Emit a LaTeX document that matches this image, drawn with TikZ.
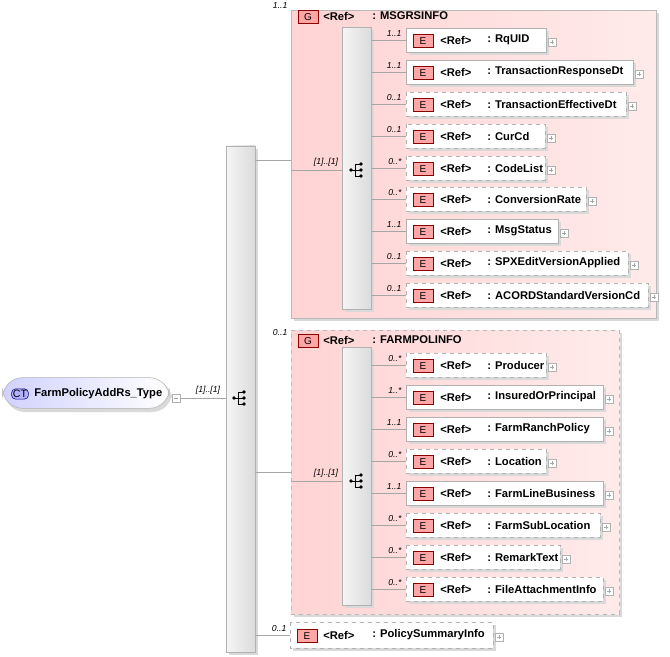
\documentclass[tikz,border=0pt]{standalone}
\usepackage{fontspec}
\setmainfont{Liberation Sans}
\begin{document}
\begin{tikzpicture}[x=0.75pt,y=-0.75pt,font=\fontsize{8.4}{9}\selectfont\bfseries,
  bar/.style={draw=gray!60,left color=gray!8,right color=gray!28},
  grp/.style={draw=gray!55,left color=red!17,right color=red!8},
  eicon/.style={draw=red!55!black,fill=red!35,inner sep=0pt,minimum width=15pt,minimum height=10pt,font=\fontsize{7.5}{8}\selectfont\mdseries},
  mult/.style={font=\fontsize{6.5}{7}\selectfont\itshape\mdseries,inner sep=1pt},
  conn/.style={draw=gray!70},
  shd/.style={fill=gray!30,draw=none}]
\useasboundingbox (0,0) rectangle (670,656);
\newcommand\seqicon[2]{%
  \fill (#1-6,#2) circle[radius=1.4pt];
  \draw[line width=0.7pt] (#1-6,#2)--(#1-2,#2) (#1-2,#2-6)--(#1-2,#2+6)
    (#1-2,#2-6)--(#1+3,#2-6) (#1-2,#2+6)--(#1+3,#2+6) (#1-2,#2)--(#1+3,#2);
  \fill (#1+4,#2-6) circle[radius=1.4pt] (#1+4,#2) circle[radius=1.4pt] (#1+4,#2+6) circle[radius=1.4pt];}
\newcommand\plusbox[2]{%
  \draw[gray!60,fill=white] (#1,#2-4) rectangle (#1+8,#2+4);
  \draw[gray!70] (#1+2,#2)--(#1+6,#2) (#1+4,#2-2)--(#1+4,#2+2);}
\newcommand\elem[7]{%
  \fill[shd] (409,#2-9) rectangle (#3+3,#2+15);
  \draw[gray!60,fill=white,#5] (406,#2-12) rectangle (#3,#2+12);
  \coordinate (#6) at (406,#2);
  \node[eicon] at (423,#2+1) {E};
  \node[anchor=west,inner sep=0] at (440,#2) {<Ref>};
  \node[anchor=west,inner sep=0] at (487,#2) {: #1};
  \plusbox{#3+2}{#2+2}
  \draw[conn] (#7.east |- #6) -- (#6);
  \node[mult,anchor=south east] at (403,#2-2) {#4};}
% root
\fill[gray!30,rounded corners=15] (5,380) rectangle (172,412);
\node[draw=gray!60,rounded corners=15,left color=blue!18,right color=white,minimum width=125pt,minimum height=23pt,inner sep=0] (ct) at (86,393) {};
\node[draw=blue!50!black,fill=blue!30,rounded corners=3,inner sep=1pt,font=\fontsize{8}{9}\selectfont\mdseries] at (20,394) {CT};
\node[anchor=west,inner sep=0] at (34,394) {FarmPolicyAddRs\_Type};
\draw[gray!60,fill=white] (172,394) rectangle (180,402);
\draw[gray!70] (174,398)--(178,398);
% main bar
\fill[gray!30] (229,149) rectangle (258,655);
\node[bar,minimum width=21.75pt,minimum height=379.5pt,inner sep=0] (mb) at (240.5,399) {};
\seqicon{240}{398}
\draw[conn] (180,398) -- (mb.west |- 0,398);
\node[mult,anchor=south] at (208,396) {[1]..[1]};
% group 1
\fill[gray!30] (294,13) rectangle (659,321);
\node[grp,minimum width=273.75pt,minimum height=231pt,inner sep=0,anchor=north west] (g1) at (291,10) {};
\draw[conn] (mb.east |- 0,160) -- (g1.west |- 0,160);
\node[mult,anchor=east] at (289,6) {1..1};
\node[eicon] at (308,17) {G};
\node[anchor=west,inner sep=0] at (323,16) {<Ref>};
\node[anchor=west,inner sep=0] at (372,16) {: MSGRSINFO};
\fill[gray!30] (345,30) rectangle (374,312);
\node[bar,minimum width=21.75pt,minimum height=211.5pt,inner sep=0,anchor=north west] (b1) at (342,27) {};
\seqicon{357}{170}
\draw[conn] (g1.west |- 0,170) -- (b1.west |- 0,170);
\node[mult,anchor=south] at (326,168) {[1]..[1]};
\elem{RqUID}{40}{546}{1..1}{}{e1}{b1}
\elem{TransactionResponseDt}{72}{633}{1..1}{}{e2}{b1}
\elem{TransactionEffectiveDt}{104}{626}{0..1}{dashed}{e3}{b1}
\elem{CurCd}{136}{545}{0..1}{dashed}{e4}{b1}
\elem{CodeList}{168}{545}{0..*}{dashed}{e5}{b1}
\elem{ConversionRate}{199}{586}{0..*}{dashed}{e6}{b1}
\elem{MsgStatus}{231}{558}{1..1}{}{e7}{b1}
\elem{SPXEditVersionApplied}{263}{628}{0..1}{dashed}{e8}{b1}
\elem{ACORDStandardVersionCd}{295}{648}{0..1}{dashed}{e9}{b1}
% group 2
\fill[gray!30] (294,333) rectangle (622,617);
\node[grp,dashed,minimum width=246pt,minimum height=213pt,inner sep=0,anchor=north west] (g2) at (291,330) {};
\draw[conn] (mb.east |- 0,472) -- (g2.west |- 0,472);
\node[mult,anchor=east] at (289,333) {0..1};
\node[eicon] at (308,341) {G};
\node[anchor=west,inner sep=0] at (323,340) {<Ref>};
\node[anchor=west,inner sep=0] at (372,340) {: FARMPOLINFO};
\fill[gray!30] (345,350) rectangle (374,608);
\node[bar,minimum width=21.75pt,minimum height=193.5pt,inner sep=0,anchor=north west] (b2) at (342,347) {};
\seqicon{357}{481}
\draw[conn] (g2.west |- 0,481) -- (b2.west |- 0,481);
\node[mult,anchor=south] at (326,479) {[1]..[1]};
\elem{Producer}{365}{546}{0..*}{dashed}{f1}{b2}
\elem{InsuredOrPrincipal}{397}{603}{1..*}{}{f2}{b2}
\elem{FarmRanchPolicy}{429}{603}{1..1}{}{f3}{b2}
\elem{Location}{461}{546}{0..*}{dashed}{f4}{b2}
\elem{FarmLineBusiness}{493}{603}{1..1}{}{f5}{b2}
\elem{FarmSubLocation}{525}{600}{0..*}{dashed}{f6}{b2}
\elem{RemarkText}{557}{560}{0..*}{dashed}{f7}{b2}
\elem{FileAttachmentInfo}{589}{603}{0..*}{dashed}{f8}{b2}
% policy summary
\fill[shd] (293,625) rectangle (496,651);
\draw[gray!60,fill=white,dashed] (290,622) rectangle (493,648);
\coordinate (ps) at (290,635);
\node[eicon] at (307,636) {E};
\node[anchor=west,inner sep=0] at (323,635) {<Ref>};
\node[anchor=west,inner sep=0] at (372,635) {: PolicySummaryInfo};
\plusbox{495}{637}
\draw[conn] (mb.east |- ps) -- (ps);
\node[mult,anchor=south east] at (288,633) {0..1};
\end{tikzpicture}
\end{document}
